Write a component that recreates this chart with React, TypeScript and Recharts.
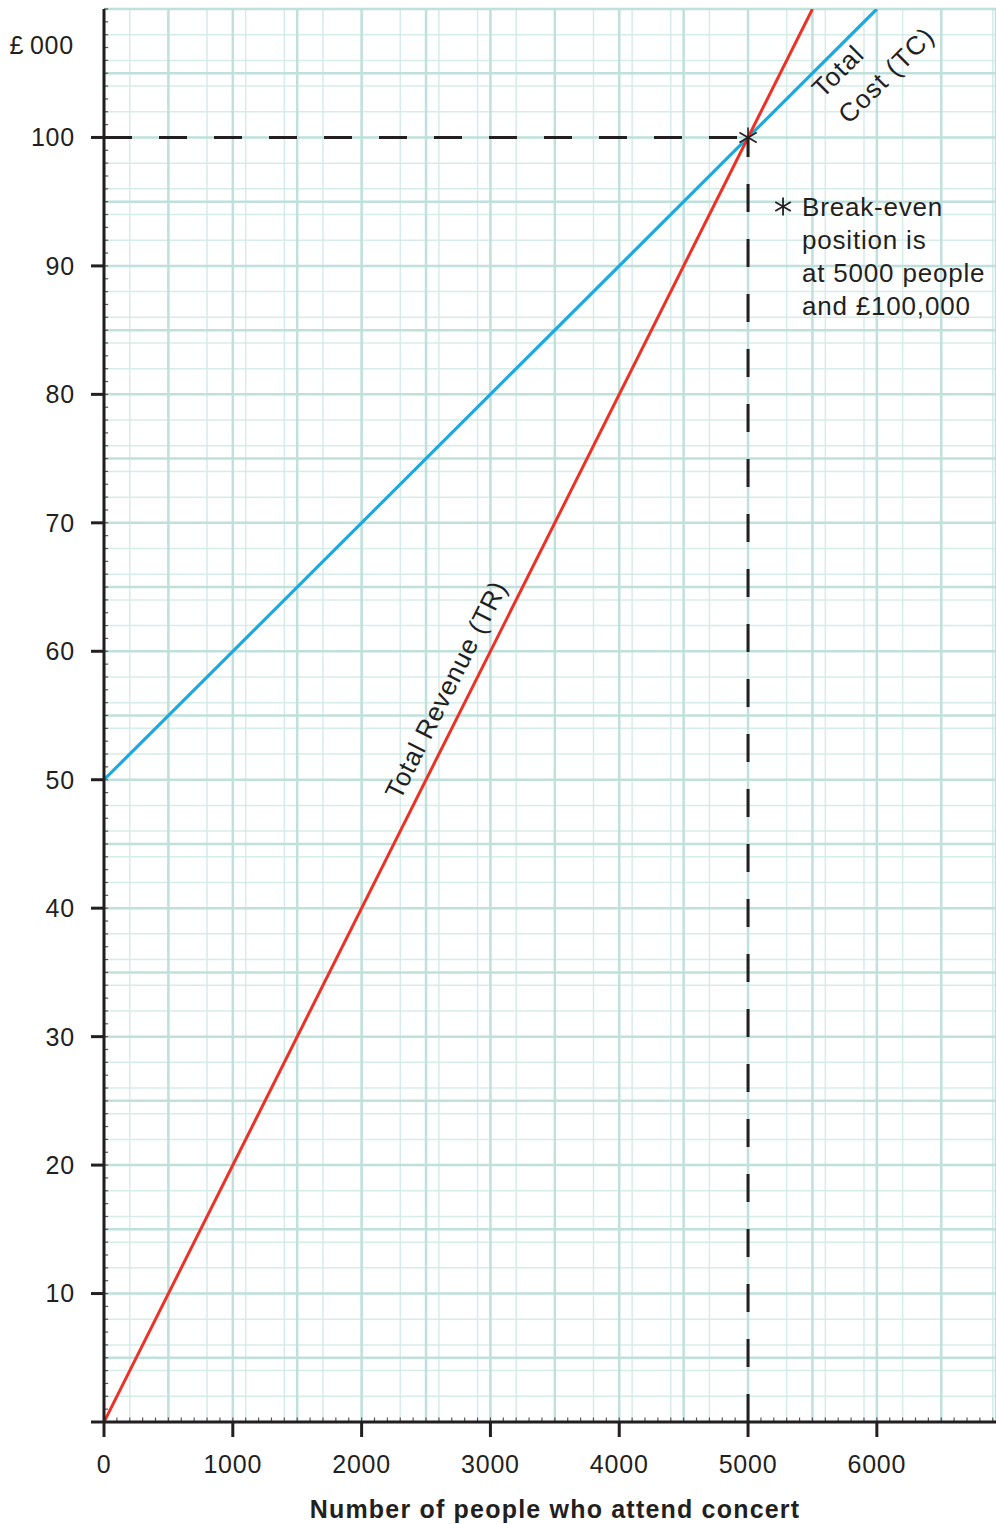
import React from 'react';
import { LineChart, Line, XAxis, YAxis, CartesianGrid, ReferenceLine, ReferenceDot } from 'recharts';

// ---- data ----
const revenuePeople = [0, 5000, 5500];
const revenueValues = [0, 100, 110];
const costPeople = [0, 5000, 6000];
const costValues = [50, 100, 110];
const xTickValues = [0, 1000, 2000, 3000, 4000, 5000, 6000];
const yTickValues = [0, 10, 20, 30, 40, 50, 60, 70, 80, 90, 100];
const breakEvenPeople = 5000;
const breakEvenValue = 100;
const annotationLines = ['Break-even', 'position is', 'at 5000 people', 'and £100,000'];
const revenueLabel = 'Total Revenue (TR)';
const costLabelLines = ['Total', 'Cost (TC)'];
const yUnitLabel = '£\u2009000';
const xTitle = 'Number of people who attend concert';

// grid layout
const X_MAX = 6925;
const Y_MAX = 110;
const minorX: number[] = [];
for (let v = 100; v < X_MAX; v += 100) minorX.push(v);
const majorX: number[] = [];
for (let v = 500; v < X_MAX; v += 500) majorX.push(v);
const minorY: number[] = [];
for (let v = 1; v <= Y_MAX; v += 1) minorY.push(v);
const majorY: number[] = [];
for (let v = 5; v <= Y_MAX; v += 5) majorY.push(v);

const revenueData = revenuePeople.map((p, i) => ({ people: p, value: revenueValues[i] }));
const costData = costPeople.map((p, i) => ({ people: p, value: costValues[i] }));

const FONT = '"Liberation Sans", Arial, Helvetica, sans-serif';
const INK = '#231f20';
const RED = '#ee3124';
const BLUE = '#1ba9e1';

const asterisk = (cx: number, cy: number, r: number, w: number) => (
  <g stroke={INK} strokeWidth={w}>
    <line x1={cx} y1={cy - r} x2={cx} y2={cy + r} />
    <line x1={cx - r * 0.866} y1={cy - r * 0.5} x2={cx + r * 0.866} y2={cy + r * 0.5} />
    <line x1={cx - r * 0.866} y1={cy + r * 0.5} x2={cx + r * 0.866} y2={cy - r * 0.5} />
  </g>
);

const BreakEvenShape = (props: any) => {
  const { cx, cy } = props;
  return (
    <g>
      {asterisk(cx, cy, 10, 1.6)}
      {asterisk(cx + 35, cy + 69, 9, 1.8)}
      <text x={cx + 54} y={cy + 79} fontFamily={FONT} fontSize={26} letterSpacing={0.8} fill={INK}>
        {annotationLines.map((l, i) => (
          <tspan key={i} x={cx + 54} dy={i === 0 ? 0 : 33}>{l}</tspan>
        ))}
      </text>
    </g>
  );
};

const RevenueLabelShape = (props: any) => {
  const { cx, cy } = props;
  return (
    <text x={cx} y={cy} textAnchor="middle" fontFamily={FONT} fontSize={26} letterSpacing={0.8} fill={INK}
      transform={`rotate(-63.4, ${cx}, ${cy})`}>{revenueLabel}</text>
  );
};

const CostLabelShape = (props: any) => {
  const { cx, cy } = props;
  return (
    <text x={cx} y={cy} fontFamily={FONT} fontSize={26} letterSpacing={1.2} fill={INK}
      transform={`rotate(-45, ${cx}, ${cy})`}>
      {costLabelLines.map((l, i) => (
        <tspan key={i} x={cx} dy={i === 0 ? 0 : 37}>{l}</tspan>
      ))}
    </text>
  );
};

export default function App() {
  return (
    <div style={{ position: 'absolute', left: 0, top: 0, background: '#fff' }}>
      <LineChart width={996} height={1524} margin={{ top: 9, right: 0, bottom: 0, left: 0 }}>
        <XAxis xAxisId="minor" type="number" dataKey="people" domain={[0, X_MAX]} ticks={minorX} hide allowDataOverflow />
        <YAxis yAxisId="minor" type="number" domain={[0, Y_MAX]} ticks={minorY} hide allowDataOverflow />
        <XAxis xAxisId="major" type="number" dataKey="people" domain={[0, X_MAX]} ticks={majorX} hide allowDataOverflow />
        <YAxis yAxisId="major" type="number" domain={[0, Y_MAX]} ticks={majorY} hide allowDataOverflow />
        <CartesianGrid xAxisId="minor" yAxisId="minor" stroke="#d6ece9" strokeWidth={1.5} />
        <CartesianGrid xAxisId="major" yAxisId="major" stroke="#bfe0db" strokeWidth={2.5} />
        <XAxis
          type="number"
          dataKey="people"
          domain={[0, X_MAX]}
          ticks={xTickValues}
          interval={0}
          allowDataOverflow
          height={102}
          axisLine={{ stroke: INK, strokeWidth: 3 }}
          tickLine={{ stroke: INK, strokeWidth: 3 }}
          tickSize={15}
          tickMargin={18}
          tick={{ fontSize: 25, fill: INK, fontFamily: FONT, letterSpacing: 0.8 }}
          label={{
            content: ({ viewBox }: any) => (
              <text x={viewBox.x + viewBox.width / 2 + 5} y={viewBox.y + 96} textAnchor="middle"
                fontFamily={FONT} fontSize={25} fontWeight="bold" letterSpacing={1.2} fill={INK}>{xTitle}</text>
            ),
          }}
        />
        <YAxis
          type="number"
          domain={[0, Y_MAX]}
          ticks={yTickValues}
          interval={0}
          allowDataOverflow
          width={104}
          axisLine={{ stroke: INK, strokeWidth: 3 }}
          tickLine={{ stroke: INK, strokeWidth: 3 }}
          tickSize={13}
          tickMargin={16}
          tickFormatter={(v: number) => (v === 0 ? '' : String(v))}
          tick={{ fontSize: 25, fill: INK, fontFamily: FONT, letterSpacing: 0.8 }}
          label={{
            content: ({ viewBox }: any) => (
              <text x={viewBox.x + viewBox.width - 30} y={viewBox.y + 45} textAnchor="end"
                fontFamily={FONT} fontSize={25} letterSpacing={0.8} fill={INK}>{yUnitLabel}</text>
            ),
          }}
        />
        {minorX.map((v) => (
          <ReferenceLine key={'tx' + v} segment={[{ x: v, y: 0 }, { x: v, y: 0.35 }]} stroke="#555" strokeWidth={1.2} ifOverflow="visible" />
        ))}
        {minorY.map((v) => (
          <ReferenceLine key={'ty' + v} segment={[{ x: 0, y: v }, { x: 32, y: v }]} stroke="#555" strokeWidth={1.2} ifOverflow="visible" />
        ))}
        <Line data={costData} dataKey="value" stroke={BLUE} strokeWidth={3.2} dot={false} isAnimationActive={false} />
        <Line data={revenueData} dataKey="value" stroke={RED} strokeWidth={3} dot={false} isAnimationActive={false} />
        <ReferenceLine segment={[{ x: 0, y: breakEvenValue }, { x: breakEvenPeople, y: breakEvenValue }]}
          stroke={INK} strokeWidth={3} strokeDasharray="28 27" />
        <ReferenceLine segment={[{ x: breakEvenPeople, y: 0 }, { x: breakEvenPeople, y: breakEvenValue }]}
          stroke={INK} strokeWidth={3} strokeDasharray="28 27" />
        <ReferenceDot x={breakEvenPeople} y={breakEvenValue} r={0} shape={BreakEvenShape} />
        <ReferenceDot x={2717} y={56.7} r={0} shape={RevenueLabelShape} ifOverflow="visible" />
        <ReferenceDot x={5580} y={103.0} r={0} shape={CostLabelShape} ifOverflow="visible" />
      </LineChart>
    </div>
  );
}
